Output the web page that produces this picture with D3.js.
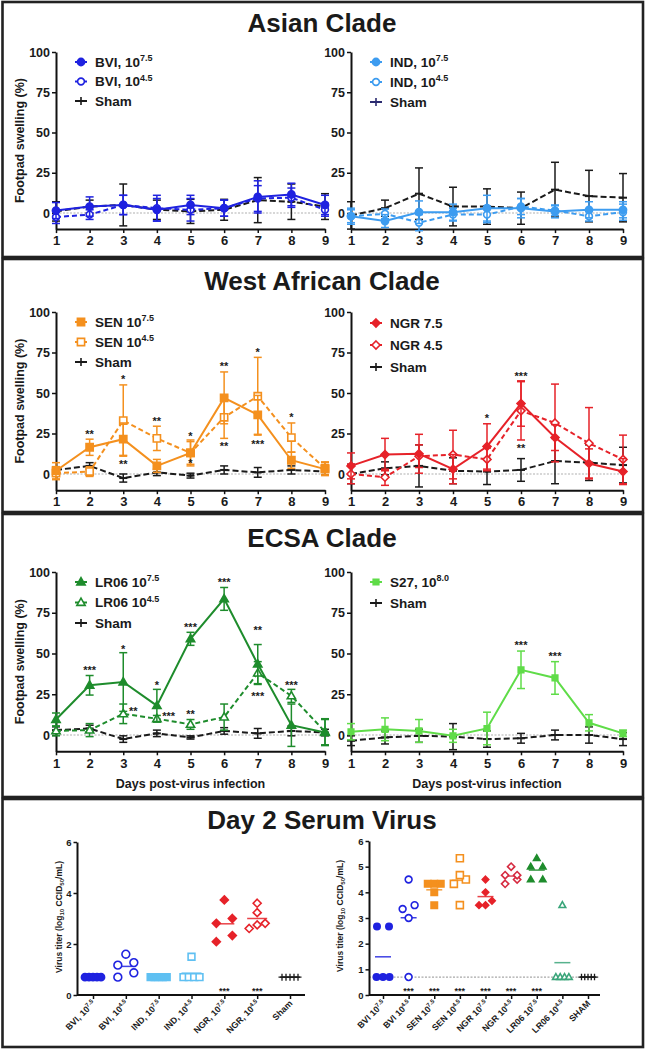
<!DOCTYPE html>
<html><head><meta charset="utf-8">
<script src="https://cdn.jsdelivr.net/npm/d3@7"></script>
<style>body{margin:0;background:#fff}svg{display:block}</style>
</head><body><svg id="c" width="665" height="1050"></svg>
<script>
// ---------------- DATA ----------------
const days = [1,2,3,4,5,6,7,8,9];
const swellTicks = [0,25,50,75,100];

// Asian clade
const bvi75 = [1.5,4,5,2,5,3,10,11.5,5];
const bvi75Err = [5,6,6,7,6,5,10,7,6];
const bvi45 = [-2.5,-1,5,3,2,3,9,9.5,2];
const bvi45Err = [4,3,6,8,7,5,8,6,4];
const shamA1 = [1,4,5,2,1,2,8,7,4];
const shamA1Err = [6,4,13,6,7.5,6.5,14,11,8];
const ind75 = [-2,-5,0.5,0.5,3,3,1,2,2];
const ind75Err = [4,4,7,5,8,6,4,5,5];
const ind45 = [-2,-0.5,-6,-1,-1,4,1.5,-2,0.5];
const ind45Err = [5,3,5,4,5,5,3,3,5];
const shamA2 = [-1.5,3,12,4,4,3,14.5,10.5,9.5];
const shamA2Err = [8.5,5,16,12,11,10,17,16,15];

// West African clade
const sen75 = [2,16.5,21.5,5,13,47,36.5,8.5,3];
const sen75Err = [5,5,10,4,7,16,12,5,4];
const sen45 = [0.5,1.5,33,22,13,35,48,22.5,3.5];
const sen45Err = [4,3,22,7.5,8,13,24,9,4];
const shamW1 = [2.5,5,-2.5,1,-1,2.5,1,2.5,1.5];
const shamW1Err = [2,2,2.5,2,1.5,2.5,3,2.5,2];
const ngr75 = [5,12,12.5,3,17,43.5,22.5,6.5,1.5];
const ngr75Err = [8,10,12,9,14,14,8,9,8];
const ngr45 = [0,-2,11,12,9,39,31.5,19,9];
const ngr45Err = [6,5,7,15,7,18,24,22,15];
const shamW2 = [0,3.5,5,2,1.5,2.5,8,7,5.5];
const shamW2Err = [6,4,13,8,8,7,14,11,11];

// ECSA clade
const lr75 = [9.5,30.5,32.5,18,59,83.5,43.5,6,1.5];
const lr75Err = [4,6,18,10,4,7,12,13,8];
const lr45 = [2.5,3,13,10,6.5,11,38,24,2];
const lr45Err = [3,4,6,2,3,8,7,4,8];
const shamE1 = [3,4,-2.5,1,-1.5,2.5,1,2.5,1.5];
const shamE1Err = [2,2,2,2,1,2,3,3,2];
const s27 = [2,3.5,2.5,-0.5,4,40,35,7.5,1];
const s27Err = [5,7,7,4,10,11.5,10,5,2];
const shamE2 = [-3.5,-1.5,-0.5,-1,-2.5,-2,0,0,-2.5];
const shamE2Err = [3,4,4,8,5,3,3,5,4];

// significance labels (day, value, label)
const senStarDays = [2,3,3,4,5,5,6,6,7,7,8];
const senStarVals = [26,60,7.5,34.5,25,8.5,68.5,19,77,20,36.5];
const senStarLabels = ["**","*","**","**","*","*","**","**","*","***","*"];
const ngrStarDays = [5,6,6];
const ngrStarVals = [36.4,62.3,17.9];
const ngrStarLabels = ["*","***","**"];
const lrStarDays = [2,3,3.3,4,4.35,5,5,6,7,7,8];
const lrStarVals = [41.7,54.6,16,32,13,68,14.3,95.7,66,25.7,32.5];
const lrStarLabels = ["***","*","**","*","***","***","**","***","**","***","***"];
const s27StarDays = [6,7];
const s27StarVals = [57,49.7];
const s27StarLabels = ["***","***"];

// Day 2 serum virus
const serumTicksL = [0,2,4,6];
const serumTicksR = [0,1,2,3,4,5,6];
const lod = 0.7;
const catNamesL = ["BVI, 10","BVI, 10","IND, 10","IND, 10","NGR, 10","NGR, 10","Sham"];
const catSupsL = ["7.5","4.5","7.5","4.5","7.5","4.5",""];
const serumL_bvi75 = [0.7,0.7,0.7,0.7,0.7];
const serumL_bvi45 = [0.7,0.87,1.17,1.27,1.6];
const serumL_ind75 = [0.7,0.7,0.7,0.7,0.7];
const serumL_ind45 = [0.7,0.7,0.7,0.7,1.5];
const serumL_ngr75 = [2.09,2.33,2.81,3.0,3.73];
const serumL_ngr45 = [2.61,2.75,2.81,3.23,3.6];
const serumL_sham = [0.7,0.7,0.7,0.7,0.7];
const starsL = ["","","","","***","***",""];

const catNamesR = ["BVI 10","BVI 10","SEN 10","SEN 10","NGR 10","NGR 10","LR06 10","LR06 10","SHAM"];
const catSupsR = ["7.5","4.5","7.5","4.5","7.5","4.5","7.5","4.5",""];
const serumR_bvi75 = [0.7,0.7,0.7,2.67,2.67];
const serumR_bvi45 = [0.7,3.0,3.35,3.5,4.5];
const serumR_sen75 = [3.5,4.0,4.33,4.33,4.33];
const serumR_sen45 = [3.5,4.33,4.5,4.67,5.33];
const serumR_ngr75 = [3.5,3.5,3.67,4.0,4.5];
const serumR_ngr45 = [4.33,4.5,4.67,4.67,5.0];
const serumR_lr75 = [4.5,4.5,5.0,5.0,5.33];
const serumR_lr45 = [0.7,0.7,0.7,0.7,3.5];
const serumR_sham = [0.7,0.7,0.7,0.7,0.7];
const starsR = ["","***","***","***","***","***","***","",""];

// ---------------- STYLE ----------------
const FONT = '"Liberation Sans", Arial, Helvetica, sans-serif';
const C = {bvi:"#1f22e0", ind:"#3d9cf0", indDot:"#5fc0f2", sen:"#f4901e", ngr:"#e62229", ngrDot45:"#d62a40",
  lr:"#1e8c2c", lrDot45:"#3aa57a", s27:"#5fdc48", sham:"#1a1a1a", shamNavy:"#2b2b70", txt:"#1a1a1a"};

const svg = d3.select("#c");

function shapePath(type, s) {
  switch(type) {
    case "circle": return d3.symbol(d3.symbolCircle, Math.PI*s*s)();
    case "square": return `M${-s},${-s}H${s}V${s}H${-s}Z`;
    case "diamond": { const h = s*1.25; return `M0,${-h}L${h},0L0,${h}L${-h},0Z`; }
    case "triangle": return `M0,${-s*1.2}L${s*1.15},${s*0.8}L${-s*1.15},${s*0.8}Z`;
    case "plus": return `M${-s},0H${s}M0,${-s}V${s}`;
    case "dash": return `M${-s},0H${s}`;
  }
}
function styleAxis(a, fs) {
  a.select(".domain").attr("stroke","#111").attr("stroke-width",2);
  a.selectAll(".tick line").attr("stroke","#111").attr("stroke-width",1.5);
  a.selectAll(".tick text").attr("fill",C.txt).style("font-size",fs+"px").style("font-weight","bold").style("font-family",FONT);
}
function addText(g, x, y, main, sup, fs, supFs, anchor) {
  const t = g.append("text").attr("x",x).attr("y",y).attr("fill",C.txt)
    .style("font-family",FONT).style("font-weight","bold").style("font-size",fs+"px").attr("text-anchor",anchor||"start");
  t.append("tspan").text(main);
  if (sup) t.append("tspan").attr("dy",-fs*0.4).style("font-size",supFs+"px").text(sup);
  return t;
}

// ---------------- PANELS ----------------
const panels = [
  {top:2, bottom:257, titleY:32, title:"Asian Clade"},
  {top:259, bottom:512, titleY:290, title:"West African Clade"},
  {top:514, bottom:797, titleY:547, title:"ECSA Clade"},
  {top:799, bottom:1047, titleY:829, title:"Day 2 Serum Virus"}
];
panels.forEach(p => {
  svg.append("rect").attr("x",2.5).attr("y",p.top).attr("width",640.5).attr("height",p.bottom-p.top)
    .attr("fill","none").attr("stroke","#222").attr("stroke-width",2.6);
  svg.append("text").attr("x",322).attr("y",p.titleY).attr("text-anchor","middle").attr("fill",C.txt)
    .style("font-family",FONT).style("font-weight","bold").style("font-size","26px").text(p.title);
});

// ---------------- LINE CHARTS ----------------
function drawLineChart(cfg) {
  const g = svg.append("g");
  const x = d3.scaleLinear().domain([1,9]).range([cfg.x0, cfg.x1]);
  const base = d3.scaleLinear().domain([0,100]).range([cfg.y0, cfg.y100]);
  const y = d3.scaleLinear().domain([-10,100]).range([base(-10), base(100)]);

  g.append("line").attr("x1",x(1)).attr("x2",x(9)).attr("y1",y(0)).attr("y2",y(0))
    .attr("stroke","#b0b0b0").attr("stroke-width",1.2).attr("stroke-dasharray","2,1.5");

  const ya = g.append("g").attr("transform",`translate(${x(1)},0)`)
    .call(d3.axisLeft(y).tickValues(swellTicks).tickSize(4).tickSizeOuter(0).tickPadding(2));
  styleAxis(ya, 12.5);
  const xa = g.append("g").attr("transform",`translate(0,${y(-10)})`)
    .call(d3.axisBottom(x).tickValues(days).tickSize(4).tickSizeOuter(0).tickPadding(3));
  styleAxis(xa, 13);

  cfg.series.slice().reverse().forEach(s => {
    const line = d3.line().x((d,i)=>x(days[i])).y(d=>y(d));
    g.append("path").datum(s.vals).attr("d",line).attr("fill","none").attr("stroke",s.color)
      .attr("stroke-width",2).attr("stroke-dasharray",s.dash);
    const rows = s.vals.map((v,i)=>({cx:x(days[i]), lo:y(v-s.err[i]), hi:y(v+s.err[i])}));
    const eb = g.append("g").attr("stroke",s.color).attr("stroke-width",1.5);
    eb.selectAll(null).data(rows).join("line").attr("x1",d=>d.cx).attr("x2",d=>d.cx).attr("y1",d=>d.lo).attr("y2",d=>d.hi);
    eb.selectAll(null).data(rows).join("line").attr("x1",d=>d.cx-4).attr("x2",d=>d.cx+4).attr("y1",d=>d.hi).attr("y2",d=>d.hi);
    eb.selectAll(null).data(rows).join("line").attr("x1",d=>d.cx-4).attr("x2",d=>d.cx+4).attr("y1",d=>d.lo).attr("y2",d=>d.lo);
    g.selectAll(null).data(s.vals).join("path")
      .attr("transform",(d,i)=>`translate(${x(days[i])},${y(d)})`)
      .attr("d",shapePath(s.shape,s.size))
      .attr("fill",s.fill?s.color:(s.shape==="dash"?"none":"#fff"))
      .attr("stroke",s.color).attr("stroke-width",s.shape==="dash"?2:1.6);
  });

  if (cfg.stars) {
    g.selectAll(null).data(cfg.stars.days).join("text")
      .attr("x",d=>x(d)).attr("y",(d,i)=>y(cfg.stars.vals[i])+6.5)
      .attr("text-anchor","middle").attr("fill",C.txt)
      .style("font-family",FONT).style("font-weight","bold").style("font-size","11px")
      .text((d,i)=>cfg.stars.labels[i]);
  }

  const lx = x(1)+25;
  cfg.series.forEach((s,i) => {
    const ly = cfg.legY + i*cfg.legDy;
    const col = s.legColor || s.color;
    g.append("line").attr("x1",lx-6).attr("x2",lx+6).attr("y1",ly).attr("y2",ly).attr("stroke",col).attr("stroke-width",2);
    g.append("path").attr("transform",`translate(${lx},${ly})`)
      .attr("d",shapePath(s.shape==="dash"?"plus":s.shape, s.shape==="dash"?4:s.size))
      .attr("fill",s.fill?col:"#fff").attr("stroke",col).attr("stroke-width",1.6);
    addText(g, lx+14, ly+4.8, s.name, s.sup, 13.5, 9);
  });

  if (cfg.yTitle) {
    g.append("text").attr("transform",`translate(24,${(y(-10)+y(100))/2}) rotate(-90)`)
      .attr("text-anchor","middle").attr("fill",C.txt)
      .style("font-family",FONT).style("font-weight","bold").style("font-size","12.5px").text("Footpad swelling (%)");
  }
  if (cfg.xTitle) {
    g.append("text").attr("x",(x(1)+x(9))/2).attr("y",y(-10)+37).attr("text-anchor","middle").attr("fill",C.txt)
      .style("font-family",FONT).style("font-weight","bold").style("font-size","12.5px").text("Days post-virus infection");
  }
}

const L = {x0:56, x1:325}, R = {x0:351, x1:623};
const ser = (name, sup, vals, err, color, dash, shape, fill, size, legColor) => ({name, sup, vals, err, color, dash, shape, fill, size, legColor});

drawLineChart({...L, y0:213, y100:52, yTitle:true, legY:62, legDy:19.5, series:[
  ser("BVI, 10","7.5",bvi75,bvi75Err,C.bvi,null,"circle",true,3.6),
  ser("BVI, 10","4.5",bvi45,bvi45Err,C.bvi,"5,3","circle",false,3.4),
  ser("Sham","",shamA1,shamA1Err,C.sham,"6,3","dash",false,4)]});
drawLineChart({...R, y0:213, y100:52, legY:62, legDy:20, series:[
  ser("IND, 10","7.5",ind75,ind75Err,C.ind,null,"circle",true,3.6),
  ser("IND, 10","4.5",ind45,ind45Err,C.ind,"5,3","circle",false,3.4),
  ser("Sham","",shamA2,shamA2Err,C.sham,"6,3","dash",false,4,C.shamNavy)]});
drawLineChart({...L, y0:474, y100:312, yTitle:true, legY:322, legDy:20,
  stars:{days:senStarDays, vals:senStarVals, labels:senStarLabels}, series:[
  ser("SEN 10","7.5",sen75,sen75Err,C.sen,null,"square",true,3.6),
  ser("SEN 10","4.5",sen45,sen45Err,C.sen,"5,3","square",false,3.6),
  ser("Sham","",shamW1,shamW1Err,C.sham,"6,3","dash",false,4)]});
drawLineChart({...R, y0:474, y100:312, legY:323, legDy:22,
  stars:{days:ngrStarDays, vals:ngrStarVals, labels:ngrStarLabels}, series:[
  ser("NGR 7.5","",ngr75,ngr75Err,C.ngr,null,"diamond",true,3.2),
  ser("NGR 4.5","",ngr45,ngr45Err,C.ngr,"5,3","diamond",false,3.2),
  ser("Sham","",shamW2,shamW2Err,C.sham,"6,3","dash",false,4)]});
drawLineChart({...L, y0:735, y100:572, yTitle:true, xTitle:true, legY:582, legDy:20.5,
  stars:{days:lrStarDays, vals:lrStarVals, labels:lrStarLabels}, series:[
  ser("LR06 10","7.5",lr75,lr75Err,C.lr,null,"triangle",true,3.6),
  ser("LR06 10","4.5",lr45,lr45Err,C.lr,"5,3","triangle",false,3.6),
  ser("Sham","",shamE1,shamE1Err,C.sham,"6,3","dash",false,4)]});
drawLineChart({...R, y0:735, y100:572, xTitle:true, legY:582, legDy:21,
  stars:{days:s27StarDays, vals:s27StarVals, labels:s27StarLabels}, series:[
  ser("S27, 10","8.0",s27,s27Err,C.s27,null,"square",true,2.8),
  ser("Sham","",shamE2,shamE2Err,C.sham,"6,3","dash",false,4)]});

// ---------------- DOT CHARTS ----------------
function rowOffsets(vals, y, thresh, step, maxW) {
  const idx = d3.range(vals.length).sort((a,b)=>vals[a]-vals[b]);
  const rows = [];
  idx.forEach(i => {
    const last = rows[rows.length-1];
    if (last && Math.abs(y(vals[i]) - y(vals[last[0]])) < thresh) last.push(i); else rows.push([i]);
  });
  const off = new Array(vals.length).fill(0);
  rows.forEach(r => {
    const n = r.length, sp = n>1 ? Math.min(step, maxW/(n-1)) : 0;
    r.forEach((i,k) => off[i] = (k-(n-1)/2)*sp);
  });
  return off;
}

function drawDotChart(cfg) {
  const g = svg.append("g");
  const n = cfg.groups.length;
  const x = d3.scalePoint().domain(d3.range(n)).range([cfg.c0, cfg.c1]);
  const y = d3.scaleLinear().domain([0,6]).range([995, cfg.yTop]);

  if (cfg.lod) g.append("line").attr("x1",cfg.ax0).attr("x2",cfg.ax1).attr("y1",y(lod)).attr("y2",y(lod))
    .attr("stroke","#a8a8a8").attr("stroke-width",1.2).attr("stroke-dasharray","2,1.5");

  const ya = g.append("g").attr("transform",`translate(${cfg.ax0},0)`)
    .call(d3.axisLeft(y).tickValues(cfg.yTicks).tickFormat(d3.format("d")).tickSize(3.5).tickSizeOuter(0).tickPadding(2));
  styleAxis(ya, 9.5);
  const xa = g.append("g").attr("transform",`translate(0,${y(0)})`)
    .call(d3.axisBottom(x).tickSize(4).tickSizeOuter(0).tickFormat(""));
  styleAxis(xa, 8);
  xa.select(".domain").remove();
  g.append("line").attr("x1",cfg.ax0).attr("x2",cfg.ax1).attr("y1",y(0)).attr("y2",y(0)).attr("stroke","#111").attr("stroke-width",2);

  cfg.groups.forEach((grp,i) => {
    const cx = x(i);
    const offs = rowOffsets(grp.vals, y, cfg.thresh, cfg.step, cfg.maxW);
    const m = d3.mean(grp.vals);
    g.append("line").attr("x1",cx-cfg.meanW/2).attr("x2",cx+cfg.meanW/2).attr("y1",y(m)).attr("y2",y(m))
      .attr("stroke",grp.color).attr("stroke-width",1.5).attr("opacity",0.85);
    g.selectAll(null).data(grp.vals).join("path")
      .attr("transform",(d,j)=>`translate(${cx+offs[j]},${y(d)})`)
      .attr("d",shapePath(grp.shape,grp.size))
      .attr("fill",grp.fill?grp.color:(grp.shape==="plus"?"none":"#fff"))
      .attr("stroke",grp.color).attr("stroke-width",grp.shape==="plus"?1.3:1.6);
    const lbl = addText(g, 0, 0, cfg.names[i], cfg.sups[i], 8.8, 6, "end");
    lbl.attr("transform",`translate(${cx+3},${y(0)+9}) rotate(-45)`);
    if (cfg.stars[i]) g.append("text").attr("x",cx).attr("y",y(0)-1.5).attr("text-anchor","middle").attr("fill",C.txt)
      .style("font-family",FONT).style("font-weight","bold").style("font-size","9px").text(cfg.stars[i]);
  });

  const t = g.append("text").attr("transform",`translate(${cfg.titleX},${cfg.titleY}) rotate(-90)`)
    .attr("text-anchor","middle").attr("fill",C.txt)
    .style("font-family",FONT).style("font-weight","bold").style("font-size","8.5px");
  t.append("tspan").text("Virus titer (log");
  t.append("tspan").attr("dy",2).style("font-size","6px").text("10");
  t.append("tspan").attr("dy",-2).text(" CCID");
  t.append("tspan").attr("dy",2).style("font-size","6px").text("50");
  t.append("tspan").attr("dy",-2).text("/mL)");
}

const grp = (vals, color, shape, fill, size) => ({vals, color, shape, fill, size});

drawDotChart({ax0:77, ax1:305, c0:93, c1:290, yTop:842, yTicks:serumTicksL, thresh:9, step:16, maxW:16, meanW:20,
  names:catNamesL, sups:catSupsL, stars:starsL, titleX:62, titleY:917, lod:false, groups:[
  grp(serumL_bvi75,C.bvi,"circle",true,3.6),
  grp(serumL_bvi45,C.bvi,"circle",false,3.9),
  grp(serumL_ind75,C.indDot,"square",true,3.4),
  grp(serumL_ind45,C.indDot,"square",false,3.4),
  grp(serumL_ngr75,C.ngr,"diamond",true,3.2),
  grp(serumL_ngr45,C.ngr,"diamond",false,3.2),
  grp(serumL_sham,C.sham,"plus",false,3.5)]});

drawDotChart({ax0:369, ax1:600, c0:383, c1:588, yTop:841, yTicks:serumTicksR, thresh:8, step:12, maxW:13, meanW:16,
  names:catNamesR, sups:catSupsR, stars:starsR, titleX:343, titleY:916, lod:true, groups:[
  grp(serumR_bvi75,C.bvi,"circle",true,3.2),
  grp(serumR_bvi45,C.bvi,"circle",false,3.4),
  grp(serumR_sen75,C.sen,"square",true,3.2),
  grp(serumR_sen45,C.sen,"square",false,3.5),
  grp(serumR_ngr75,C.ngr,"diamond",true,2.6),
  grp(serumR_ngr45,C.ngrDot45,"diamond",false,2.9),
  grp(serumR_lr75,C.lr,"triangle",true,2.8),
  grp(serumR_lr45,C.lrDot45,"triangle",false,2.9),
  grp(serumR_sham,C.sham,"plus",false,3.2)]});
</script></body></html>
